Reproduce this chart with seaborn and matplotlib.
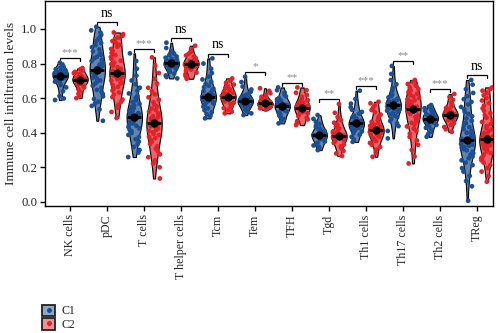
import numpy as np
import pandas as pd
import matplotlib
matplotlib.use("Agg")
import matplotlib.pyplot as plt
import matplotlib.colors as mcolors
from matplotlib.patches import Patch
from matplotlib.lines import Line2D
from matplotlib.legend_handler import HandlerTuple
import seaborn as sns

# ---- data -------------------------------------------------------------
cell_types = ["NK cells", "pDC", "T cells", "T helper cells", "Tcm", "Tem",
              "TFH", "Tgd", "Th1 cells", "Th17 cells", "Th2 cells", "TReg"]
clusters = ["C1", "C2"]
sig_labels = ["***", "ns", "***", "ns", "ns", "*", "**", "**", "***", "**", "***", "ns"]

nk_c1 = [0.589, 0.598, 0.612, 0.640, 0.662, 0.675, 0.688, 0.695, 0.702, 0.708, 0.713, 0.717,
         0.721, 0.725, 0.728, 0.731, 0.733, 0.736, 0.739, 0.742, 0.745, 0.749, 0.753, 0.757,
         0.762, 0.768, 0.775, 0.784, 0.795, 0.805]
nk_c2 = [0.600, 0.612, 0.625, 0.640, 0.652, 0.662, 0.670, 0.677, 0.683, 0.688, 0.692, 0.696,
         0.699, 0.702, 0.704, 0.706, 0.708, 0.711, 0.714, 0.717, 0.721, 0.725, 0.729, 0.734,
         0.739, 0.745, 0.752, 0.760, 0.767, 0.774]
pdc_c1 = [0.469, 0.535, 0.555, 0.568, 0.580, 0.595, 0.610, 0.624, 0.636, 0.648, 0.660, 0.672,
          0.683, 0.693, 0.702, 0.711, 0.719, 0.727, 0.734, 0.741, 0.748, 0.754, 0.759, 0.763,
          0.762, 0.764, 0.773, 0.779, 0.785, 0.792, 0.799, 0.806, 0.814, 0.822, 0.831, 0.840,
          0.850, 0.860, 0.871, 0.882, 0.894, 0.906, 0.918, 0.930, 0.943, 0.955, 0.967, 0.979,
          0.992, 1.013]
pdc_c2 = [0.485, 0.520, 0.545, 0.562, 0.578, 0.592, 0.606, 0.620, 0.632, 0.644, 0.655, 0.665,
          0.675, 0.684, 0.693, 0.701, 0.709, 0.716, 0.723, 0.729, 0.734, 0.739, 0.743, 0.746,
          0.747, 0.748, 0.752, 0.757, 0.763, 0.770, 0.778, 0.787, 0.796, 0.806, 0.816, 0.827,
          0.838, 0.849, 0.861, 0.873, 0.885, 0.897, 0.908, 0.919, 0.930, 0.940, 0.950, 0.960,
          0.970, 0.980]
tcell_c1 = [0.259, 0.285, 0.300, 0.318, 0.333, 0.348, 0.362, 0.375, 0.387, 0.398, 0.408, 0.417,
            0.425, 0.433, 0.440, 0.447, 0.454, 0.460, 0.466, 0.472, 0.477, 0.482, 0.486, 0.489,
            0.491, 0.493, 0.497, 0.502, 0.507, 0.513, 0.519, 0.526, 0.533, 0.541, 0.549, 0.558,
            0.567, 0.577, 0.588, 0.600, 0.613, 0.627, 0.643, 0.660, 0.680, 0.702, 0.730, 0.770,
            0.815, 0.859]
tcell_c2 = [0.135, 0.200, 0.222, 0.240, 0.258, 0.275, 0.292, 0.308, 0.322, 0.335, 0.347, 0.358,
            0.368, 0.377, 0.386, 0.394, 0.402, 0.410, 0.417, 0.424, 0.431, 0.438, 0.444, 0.450,
            0.456, 0.458, 0.463, 0.469, 0.475, 0.482, 0.489, 0.496, 0.504, 0.512, 0.521, 0.530,
            0.540, 0.551, 0.563, 0.576, 0.590, 0.605, 0.622, 0.640, 0.660, 0.684, 0.712, 0.745,
            0.790, 0.836]
thelper_c1 = [0.714, 0.722, 0.731, 0.742, 0.752, 0.761, 0.768, 0.774, 0.779, 0.784, 0.788, 0.792,
              0.795, 0.798, 0.800, 0.802, 0.804, 0.807, 0.810, 0.814, 0.818, 0.823, 0.828, 0.834,
              0.841, 0.849, 0.858, 0.870, 0.890, 0.921]
thelper_c2 = [0.712, 0.720, 0.728, 0.738, 0.748, 0.757, 0.765, 0.771, 0.777, 0.782, 0.787, 0.791,
              0.794, 0.797, 0.798, 0.800, 0.802, 0.805, 0.808, 0.812, 0.816, 0.821, 0.826, 0.832,
              0.839, 0.847, 0.856, 0.868, 0.884, 0.903]
tcm_c1 = [0.483, 0.495, 0.507, 0.518, 0.530, 0.541, 0.551, 0.560, 0.568, 0.574, 0.576, 0.583,
          0.589, 0.595, 0.600, 0.604, 0.607, 0.608, 0.609, 0.612, 0.616, 0.621, 0.627, 0.633,
          0.640, 0.647, 0.655, 0.663, 0.672, 0.682, 0.694, 0.708, 0.724, 0.745, 0.770, 0.800,
          0.830]
tcm_c2 = [0.512, 0.522, 0.532, 0.542, 0.551, 0.559, 0.567, 0.574, 0.581, 0.587, 0.592, 0.597,
          0.601, 0.604, 0.607, 0.609, 0.612, 0.616, 0.620, 0.625, 0.631, 0.637, 0.644, 0.651,
          0.659, 0.668, 0.678, 0.689, 0.701, 0.714]
tem_c1 = [0.502, 0.512, 0.522, 0.532, 0.541, 0.549, 0.556, 0.562, 0.567, 0.571, 0.575, 0.578,
          0.580, 0.581, 0.582, 0.584, 0.586, 0.589, 0.592, 0.596, 0.601, 0.606, 0.612, 0.619,
          0.627, 0.637, 0.650, 0.667, 0.693, 0.724]
tem_c2 = [0.533, 0.537, 0.541, 0.545, 0.547, 0.549, 0.553, 0.556, 0.559, 0.562, 0.564, 0.566,
          0.567, 0.568, 0.569, 0.571, 0.572, 0.574, 0.576, 0.579, 0.582, 0.586, 0.590, 0.595,
          0.601, 0.608, 0.617, 0.628, 0.642, 0.657]
tfh_c1 = [0.454, 0.466, 0.478, 0.489, 0.499, 0.508, 0.516, 0.523, 0.529, 0.535, 0.540, 0.544,
          0.548, 0.551, 0.553, 0.555, 0.558, 0.561, 0.565, 0.569, 0.574, 0.580, 0.586, 0.593,
          0.601, 0.610, 0.620, 0.632, 0.646, 0.662]
tfh_c2 = [0.444, 0.455, 0.466, 0.477, 0.487, 0.496, 0.504, 0.512, 0.519, 0.525, 0.530, 0.535,
          0.539, 0.542, 0.543, 0.545, 0.548, 0.552, 0.556, 0.561, 0.567, 0.573, 0.580, 0.588,
          0.597, 0.607, 0.618, 0.631, 0.646, 0.662]
tgd_c1 = [0.299, 0.308, 0.317, 0.326, 0.334, 0.342, 0.349, 0.356, 0.362, 0.368, 0.373, 0.377,
          0.381, 0.384, 0.385, 0.387, 0.389, 0.392, 0.396, 0.400, 0.405, 0.411, 0.417, 0.424,
          0.432, 0.441, 0.451, 0.463, 0.480, 0.502]
tgd_c2 = [0.265, 0.280, 0.295, 0.308, 0.320, 0.331, 0.341, 0.350, 0.357, 0.363, 0.368, 0.372,
          0.375, 0.377, 0.378, 0.379, 0.381, 0.383, 0.386, 0.390, 0.395, 0.401, 0.408, 0.416,
          0.425, 0.435, 0.446, 0.458, 0.472, 0.490, 0.515, 0.566]
th1_c1 = [0.347, 0.362, 0.376, 0.388, 0.398, 0.407, 0.415, 0.422, 0.428, 0.434, 0.439, 0.443,
          0.447, 0.450, 0.452, 0.453, 0.455, 0.457, 0.460, 0.464, 0.469, 0.475, 0.482, 0.490,
          0.499, 0.509, 0.520, 0.533, 0.548, 0.568, 0.595, 0.643]
th1_c2 = [0.261, 0.285, 0.302, 0.317, 0.330, 0.341, 0.351, 0.360, 0.368, 0.375, 0.381, 0.387,
          0.392, 0.397, 0.401, 0.405, 0.408, 0.411, 0.413, 0.414, 0.416, 0.418, 0.421, 0.425,
          0.429, 0.434, 0.440, 0.447, 0.455, 0.463, 0.472, 0.482, 0.493, 0.505, 0.518, 0.531,
          0.545, 0.558, 0.570, 0.579]
th17_c1 = [0.367, 0.410, 0.438, 0.455, 0.468, 0.480, 0.490, 0.499, 0.507, 0.514, 0.521, 0.527,
           0.532, 0.537, 0.541, 0.545, 0.549, 0.552, 0.555, 0.557, 0.559, 0.561, 0.564, 0.567,
           0.571, 0.575, 0.580, 0.585, 0.591, 0.597, 0.604, 0.612, 0.621, 0.632, 0.645, 0.660,
           0.680, 0.705, 0.740, 0.786]
th17_c2 = [0.222, 0.262, 0.300, 0.330, 0.355, 0.376, 0.394, 0.410, 0.424, 0.436, 0.447, 0.457,
           0.466, 0.475, 0.484, 0.492, 0.500, 0.508, 0.516, 0.523, 0.530, 0.537, 0.541, 0.545,
           0.550, 0.555, 0.561, 0.567, 0.573, 0.580, 0.587, 0.594, 0.601, 0.609, 0.617, 0.626,
           0.635, 0.644, 0.653, 0.662, 0.672, 0.682, 0.693, 0.705]
th2_c1 = [0.376, 0.392, 0.406, 0.418, 0.428, 0.437, 0.445, 0.452, 0.458, 0.464, 0.469, 0.473,
          0.476, 0.478, 0.480, 0.482, 0.484, 0.487, 0.490, 0.494, 0.498, 0.503, 0.508, 0.514,
          0.520, 0.527, 0.534, 0.542, 0.551, 0.560]
th2_c2 = [0.405, 0.420, 0.433, 0.445, 0.455, 0.464, 0.472, 0.479, 0.485, 0.490, 0.494, 0.497,
          0.500, 0.502, 0.503, 0.505, 0.507, 0.510, 0.514, 0.518, 0.523, 0.529, 0.536, 0.544,
          0.553, 0.563, 0.575, 0.590, 0.606, 0.624]
treg_c1 = [0.006, 0.090, 0.120, 0.150, 0.175, 0.195, 0.212, 0.227, 0.240, 0.252, 0.263, 0.273,
           0.282, 0.290, 0.298, 0.305, 0.312, 0.318, 0.324, 0.330, 0.335, 0.340, 0.344, 0.348,
           0.351, 0.353, 0.355, 0.356, 0.358, 0.361, 0.365, 0.370, 0.376, 0.383, 0.391, 0.400,
           0.410, 0.421, 0.432, 0.444, 0.456, 0.469, 0.482, 0.495, 0.508, 0.521, 0.535, 0.549,
           0.563, 0.578, 0.594, 0.611, 0.630, 0.652, 0.678, 0.705]
treg_c2 = [0.116, 0.150, 0.175, 0.195, 0.212, 0.227, 0.240, 0.252, 0.263, 0.273, 0.282, 0.291,
           0.299, 0.307, 0.314, 0.321, 0.327, 0.333, 0.338, 0.343, 0.347, 0.351, 0.355, 0.358,
           0.360, 0.362, 0.363, 0.364, 0.366, 0.369, 0.373, 0.378, 0.384, 0.391, 0.399, 0.408,
           0.418, 0.428, 0.439, 0.450, 0.462, 0.474, 0.487, 0.500, 0.513, 0.527, 0.541, 0.556,
           0.571, 0.586, 0.601, 0.616, 0.630, 0.643, 0.653, 0.662]

c1_values = [nk_c1, pdc_c1, tcell_c1, thelper_c1, tcm_c1, tem_c1,
             tfh_c1, tgd_c1, th1_c1, th17_c1, th2_c1, treg_c1]
c2_values = [nk_c2, pdc_c2, tcell_c2, thelper_c2, tcm_c2, tem_c2,
             tfh_c2, tgd_c2, th1_c2, th17_c2, th2_c2, treg_c2]

rows = []
for cell, v1, v2 in zip(cell_types, c1_values, c2_values):
    rows += [(cell, "C1", v) for v in v1]
    rows += [(cell, "C2", v) for v in v2]
df = pd.DataFrame(rows, columns=["cell", "cluster", "score"])

# ---- style ------------------------------------------------------------
sns.set_style("ticks")
plt.rcParams["font.family"] = ["Liberation Serif", "DejaVu Serif"]
plt.rcParams["axes.linewidth"] = 1.0

blue = "#1C4F91"
red = "#E32129"


def pale(c, amount=0.5):
    rgb = np.array(mcolors.to_rgb(c))
    return tuple(rgb * amount + (1 - amount))


point_pal = {"C1": blue, "C2": red, "_": "white"}
fill_pal = {"C1": pale(blue, 0.7), "C2": pale(red, 0.7)}
legend_fill = {"C1": pale(blue, 0.5), "C2": pale(red, 0.5)}

np.random.seed(7)
fig = plt.figure(figsize=(5.0, 3.33), dpi=100)
ax = fig.add_axes([0.09, 0.381, 0.896, 0.616])

half = 0.267  # dodge offset of each cluster from the category centre

sns.violinplot(data=df, x="cell", y="score", hue="cluster", order=cell_types,
               hue_order=clusters, palette=fill_pal, width=2 * 2 * half, gap=0.22,
               density_norm="width", cut=0, inner=None, linewidth=0.8,
               linecolor="black", saturation=1, legend=False, ax=ax)

sns.stripplot(data=df, x="cell", y="score", hue="cluster", order=cell_types,
              hue_order=["C1", "_", "C2"], palette=point_pal, dodge=True,
              jitter=0.5, size=3.4, linewidth=0, alpha=1.0, legend=False, ax=ax)

# median marks: a short black bar with a dot on top of the points
med_pal = {"C1": "black", "C2": "black"}
sns.pointplot(data=df, x="cell", y="score", hue="cluster", order=cell_types,
              hue_order=clusters, palette=med_pal, estimator="median", errorbar=None,
              dodge=2 * half, marker="_", markersize=10.5, markeredgewidth=2.0,
              linestyle="none", legend=False, zorder=6, ax=ax)
sns.pointplot(data=df, x="cell", y="score", hue="cluster", order=cell_types,
              hue_order=clusters, palette=med_pal, estimator="median", errorbar=None,
              dodge=2 * half, marker="o", markersize=4.0, linestyle="none",
              legend=False, zorder=7, ax=ax)

# significance brackets
for i, (lab, v1, v2) in enumerate(zip(sig_labels, c1_values, c2_values)):
    top = max(max(v1), max(v2)) + 0.028
    ax.plot([i - half, i - half, i + half, i + half],
            [top - 0.018, top, top, top - 0.018], color="black", lw=0.9,
            solid_joinstyle="miter")
    if lab == "ns":
        ax.text(i, top + 0.012, lab, ha="center", va="bottom", fontsize=10,
                color="black")
    else:
        ax.text(i, top + 0.004, lab, ha="center", va="bottom", fontsize=8,
                color="#8a8a8a")

ax.set_xlim(-0.68, 11.43)
ax.set_ylim(-0.025, 1.162)
ax.set_yticks([0.0, 0.2, 0.4, 0.6, 0.8, 1.0])
ax.set_yticklabels(["0.0", "0.2", "0.4", "0.6", "0.8", "1.0"])
ax.set_xlabel("")
ax.set_ylabel("Immune cell infiltration levels", fontsize=9.6, labelpad=3)
ax.tick_params(axis="y", labelsize=9.2, length=3.5, width=1, color="black", pad=2)
ax.tick_params(axis="x", labelsize=8.6, length=3.5, width=1, color="black",
               labelrotation=90, pad=2.5)
for s in ax.spines.values():
    s.set_visible(True)
    s.set_color("black")

# legend: pale square with a coloured dot
handles = []
for cl, col in zip(clusters, [blue, red]):
    sq = Patch(facecolor=legend_fill[cl], edgecolor="#222222", linewidth=1.3)
    dot = Line2D([], [], marker="o", color=col, markersize=2.6, linestyle="none")
    handles.append((sq, dot))
fig.legend(handles, clusters, handler_map={tuple: HandlerTuple(ndivide=1, pad=0)},
           loc="upper left", bbox_to_anchor=(0.084, 0.085), frameon=False,
           fontsize=8.6, handlelength=1.1, handleheight=1.1, handletextpad=0.55,
           labelspacing=0.05, borderaxespad=0, borderpad=0)

fig.savefig("out.png", dpi=100)
